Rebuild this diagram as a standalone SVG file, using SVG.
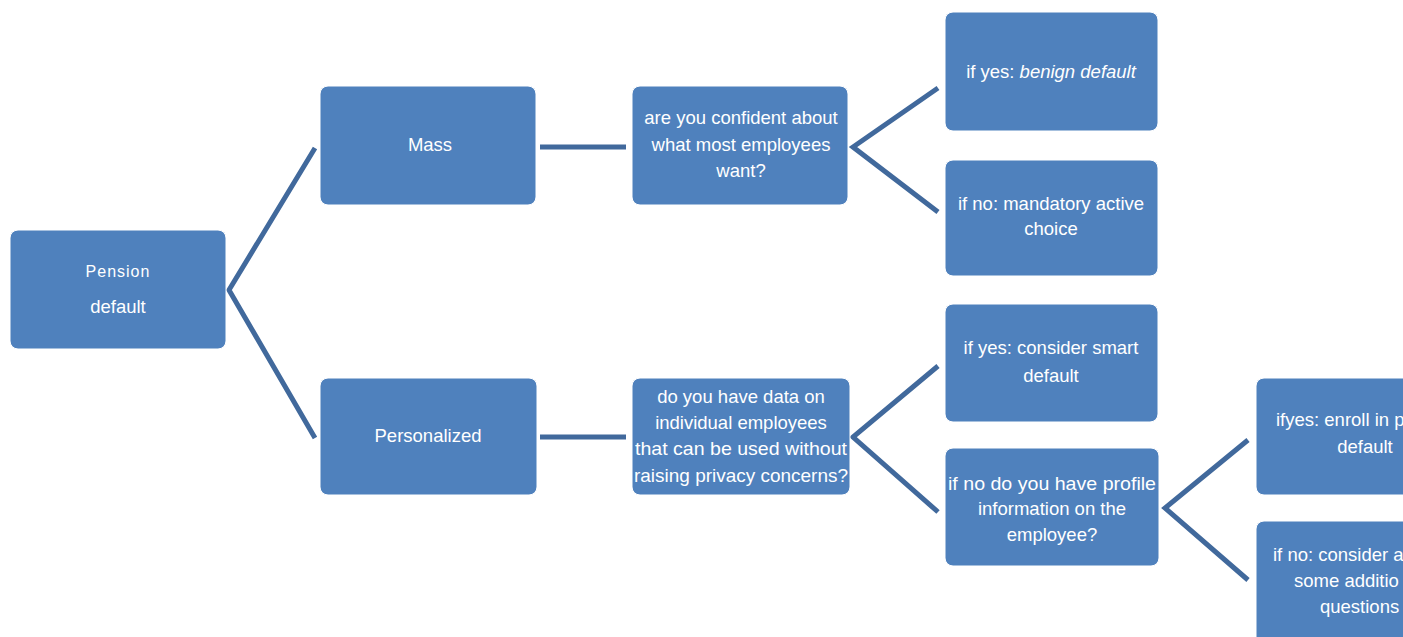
<svg xmlns="http://www.w3.org/2000/svg" width="1403" height="637" viewBox="0 0 1403 637">
<style>
.box{fill:#4f81bd;stroke:#ffffff;stroke-width:1}
.t{font-family:"Liberation Sans",Arial,sans-serif;font-size:18.5px;fill:#ffffff;text-anchor:middle}
.c{stroke:#41699c;stroke-width:5;fill:none;stroke-linecap:butt;stroke-linejoin:miter}
</style>
<rect width="1403" height="637" fill="#ffffff"/>
<g id="connectors">
<polyline class="c" points="315,148 229,290 315,438"/>
<line class="c" x1="540" y1="147" x2="626" y2="147"/>
<line class="c" x1="540" y1="437" x2="626" y2="437"/>
<polyline class="c" points="938,88 853,147 938,212"/>
<polyline class="c" points="938,366 853,437 938,512"/>
<polyline class="c" points="1248,440 1165,508 1248,580"/>
</g>
<g id="pension">
<rect class="box" x="10" y="230" width="216" height="119" rx="8"/>
<text class="t" x="118" y="277" style="font-size:16px;letter-spacing:1px">Pension</text>
<text class="t" x="118" y="313">default</text>
</g>
<g id="mass">
<rect class="box" x="320" y="86" width="216" height="119" rx="8"/>
<text class="t" x="430" y="151">Mass</text>
</g>
<g id="personalized">
<rect class="box" x="320" y="378" width="217" height="117" rx="8"/>
<text class="t" x="428" y="442">Personalized</text>
</g>
<g id="q1">
<rect class="box" x="632" y="86" width="216" height="119" rx="8"/>
<text class="t" x="741" y="124">are you confident about</text>
<text class="t" x="741" y="151">what most employees</text>
<text class="t" x="741" y="177">want?</text>
</g>
<g id="q2">
<rect class="box" x="632" y="378" width="218" height="117" rx="8"/>
<text class="t" x="741" y="403">do you have data on</text>
<text class="t" x="741" y="429">individual employees</text>
<text class="t" x="741" y="455" textLength="212" lengthAdjust="spacingAndGlyphs">that can be used without</text>
<text class="t" x="741" y="482" textLength="214" lengthAdjust="spacingAndGlyphs">raising privacy concerns?</text>
</g>
<g id="benign">
<rect class="box" x="945" y="12" width="213" height="119" rx="8"/>
<text class="t" x="1051" y="78">if yes:  <tspan font-style="italic">benign default</tspan></text>
</g>
<g id="mandatory">
<rect class="box" x="945" y="160" width="213" height="116" rx="8"/>
<text class="t" x="1051" y="210">if no: mandatory active</text>
<text class="t" x="1051" y="235">choice</text>
</g>
<g id="smart">
<rect class="box" x="945" y="304" width="213" height="118" rx="8"/>
<text class="t" x="1051" y="354">if yes: consider smart</text>
<text class="t" x="1051" y="382">default</text>
</g>
<g id="profile">
<rect class="box" x="945" y="448" width="214" height="118" rx="8"/>
<text class="t" x="1052" y="490" textLength="208" lengthAdjust="spacingAndGlyphs">if no do you have  profile</text>
<text class="t" x="1052" y="515">information on the</text>
<text class="t" x="1052" y="541">employee?</text>
</g>
<g id="enroll">
<rect class="box" x="1256" y="378" width="170" height="117" rx="8"/>
<text class="t" x="1276" y="426" style="text-anchor:start">ifyes: enroll in p</text>
<text class="t" x="1365" y="453">default</text>
</g>
<g id="consider">
<rect class="box" x="1256" y="521" width="170" height="125" rx="8"/>
<text class="t" x="1273" y="561" style="text-anchor:start">if no: consider a</text>
<text class="t" x="1294" y="587" style="text-anchor:start">some additio</text>
<text class="t" x="1320" y="613" style="text-anchor:start">questions</text>
</g>
</svg>
